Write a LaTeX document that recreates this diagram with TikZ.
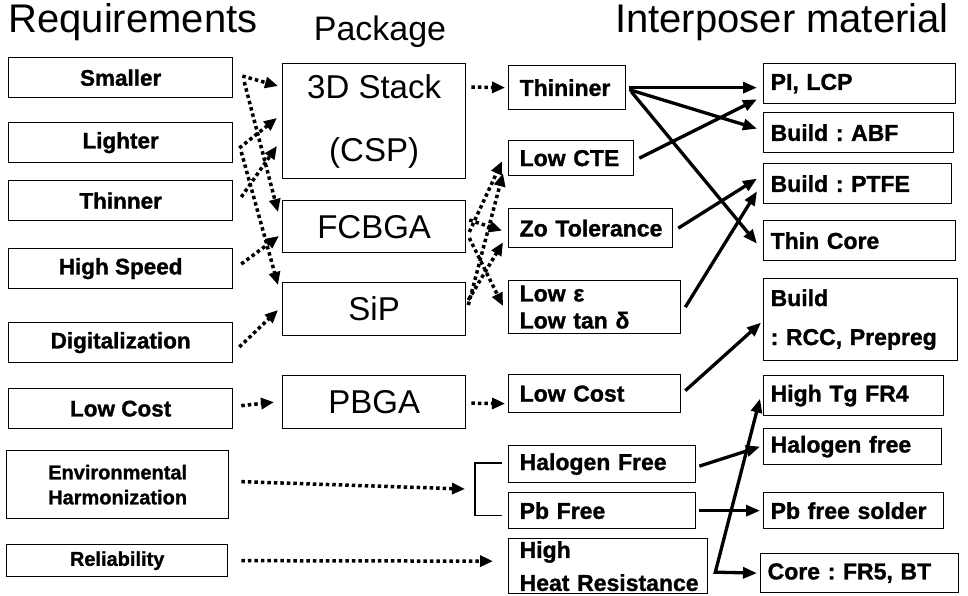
\documentclass[tikz,border=0pt]{standalone}
\usepackage{fontspec}
\setmainfont{Liberation Sans}[BoldFeatures={FakeBold=1.2}]
\usetikzlibrary{arrows.meta,calc}
\begin{document}
\frenchspacing
\begin{tikzpicture}[x=1pt,y=-1pt,
 box/.style={draw,line width=1.3pt,inner sep=0pt,anchor=north west},
 req/.style={box,align=center,font=\bfseries\fontsize{22.5}{26}\selectfont},
 pkg/.style={box,align=center,font=\fontsize{33}{63}\selectfont},
 prop/.style={box,align=left,inner xsep=11pt,font=\bfseries\fontsize{23}{27}\selectfont},
 mat/.style={box,align=left,inner xsep=7pt,font=\bfseries\fontsize{23}{27}\selectfont},
 dotarr/.style={line width=3.5pt,dash pattern=on 3.5pt off 3pt,-{Triangle[length=13pt,width=11pt]}},
 solarr/.style={line width=3.3pt,-{Triangle[length=14pt,width=11pt]}},
 title/.style={font=\fontsize{40}{44}\selectfont,anchor=base}]
\useasboundingbox (0,0) rectangle (968,595);

% titles
\node[title] (t1) at (133,32) {Requirements};
\node[title,font=\fontsize{34}{40}\selectfont] (t2) at (380,40) {Package};
\node[title] (t3) at (782,32) {Interposer material};

% requirements
\node[req,minimum width=224pt,minimum height=40pt] (sm) at (8,57) {Smaller};
\node[req,minimum width=224pt,minimum height=40pt] (li) at (8,122) {Lighter};
\node[req,minimum width=224pt,minimum height=40pt] (th) at (8,180) {Thinner};
\node[req,minimum width=224pt,minimum height=40pt] (hs) at (8,248) {High Speed};
\node[req,minimum width=224pt,minimum height=40pt] (dg) at (8,322) {Digitalization};
\node[req,minimum width=224pt,minimum height=40pt] (lc) at (8,388) {Low Cost};
\node[req,minimum width=222pt,minimum height=68pt,font=\bfseries\fontsize{20}{25}\selectfont] (en) at (6,450) {Environmental\\Harmonization};
\node[req,minimum width=221pt,minimum height=32pt,font=\bfseries\fontsize{20}{25}\selectfont] (re) at (6,544) {Reliability};

% packages
\node[pkg,minimum width=183pt,minimum height=115pt] (p3d) at (282,63) {3D Stack\\(CSP)};
\node[pkg,minimum width=183pt,minimum height=52pt] (pfc) at (282,200) {FCBGA};
\node[pkg,minimum width=183pt,minimum height=53pt] (psip) at (282,282) {SiP};
\node[pkg,minimum width=183pt,minimum height=53pt] (ppb) at (282,375) {PBGA};

% properties
\node[prop,text width=95pt,minimum height=44pt] (thn) at (508,65) {\mbox{Thininer}};
\node[prop,text width=103pt,minimum height=35pt] (cte) at (508,140) {\mbox{Low CTE}};
\node[prop,text width=142pt,minimum height=39pt] (zo) at (508,208) {\mbox{Zo Tolerance}};
\node[prop,text width=150pt,minimum height=53pt] (eps) at (508,280) {\mbox{Low ε}\\\mbox{Low tan δ}};
\node[prop,text width=150pt,minimum height=38pt] (cost) at (508,374) {\mbox{Low Cost}};
\node[prop,text width=165pt,minimum height=37pt] (hal) at (508,445) {\mbox{Halogen Free}};
\node[prop,text width=165pt,minimum height=36pt] (pb) at (508,492) {\mbox{Pb Free}};
\node[prop,text width=177pt,minimum height=55pt,font=\bfseries\fontsize{23}{33}\selectfont] (heat) at (508,538) {\mbox{High}\\\mbox{Heat Resistance}};

% materials
\node[mat,text width=178pt,minimum height=40pt] (pi) at (763,63) {\mbox{PI, LCP}};
\node[mat,text width=176pt,minimum height=40pt] (abf) at (763,112) {\mbox{Build : ABF}};
\node[mat,text width=174pt,minimum height=40pt] (ptfe) at (763,163) {\mbox{Build : PTFE}};
\node[mat,text width=178pt,minimum height=40pt] (tc) at (763,220) {\mbox{Thin Core}};
\node[mat,text width=180pt,minimum height=82pt,font=\bfseries\fontsize{23}{39}\selectfont] (rcc) at (763,278) {\mbox{Build}\\\mbox{: RCC, Prepreg}};
\node[mat,text width=166pt,minimum height=40pt] (tg) at (763,375) {\mbox{High Tg FR4}};
\node[mat,text width=164pt,minimum height=36pt] (hf) at (763,428) {\mbox{Halogen free}};
\node[mat,text width=166pt,minimum height=36pt] (pbs) at (763,492) {\mbox{Pb free solder}};
\node[mat,text width=184pt,minimum height=39pt] (core) at (760,553) {\mbox{Core : FR5, BT}};

% requirement -> package (dotted)
\draw[dotarr] ($(sm.north east)+(9,19)$) -- ($(p3d.north west)+(-4,23)$);
\draw[dotarr] ($(sm.north east)+(11,25)$) -- ($(pfc.north west)+(-4,12)$);
\draw[dotarr] ($(li.north east)+(6,26)$) -- ($(p3d.north west)+(-5,55)$);
\draw[dotarr] ($(li.north east)+(8,30)$) -- ($(psip.north west)+(-4,3)$);
\draw[dotarr] ($(th.north east)+(8,17)$) -- ($(p3d.north west)+(-5,83)$);
\draw[dotarr] ($(hs.north east)+(8,16)$) -- ($(pfc.north west)+(-3,36)$);
\draw[dotarr] ($(dg.north east)+(6,25)$) -- ($(psip.north west)+(-4,28)$);
\draw[dotarr] ($(lc.east)+(8,-3)$) -- ($(ppb.west)+(-8,0)$);

% package -> property (dotted)
\draw[dotarr] ($(p3d.north east)+(5,24)$) -- ($(thn.west)+(-3,0)$);
\draw[dotarr] ($(pfc.north east)+(3,32)$) -- ($(cte.south west)+(-6,-15)$);
\draw[dotarr] ($(pfc.north east)+(3,20)$) -- ($(zo.west)+(-6,2.5)$);
\draw[dotarr] ($(pfc.north east)+(3,38)$) -- ($(eps.north west)+(-5,26)$);
\draw[dotarr] ($(psip.north east)+(2,23)$) -- ($(cte.south west)+(-5,-3)$);
\draw[dotarr] ($(psip.north east)+(2,18)$) -- ($(zo.south west)+(-5,-6)$);
\draw[dotarr] ($(ppb.east)+(5,1)$) -- ($(cost.west)+(-3,10)$);

% environmental / reliability
\coordinate (bk) at (475,489);
\draw[line width=1.6pt] ($(hal.west)+(-6,-1)$) -| (bk) |- ($(pb.west)+(-6,5)$);
\draw[dotarr] ($(en.east)+(12,-3)$) -- ($(bk)+(-10,0)$);
\draw[dotarr] ($(re.east)+(13,0)$) -- ($(heat.west)+(-15,-5)$);

% property -> material (solid)
\draw[solarr] ($(thn.east)+(3,0)$) -- ($(pi.west)+(-6,4)$);
\draw[solarr] ($(thn.east)+(3,2)$) -- ($(abf.west)+(-6,-4)$);
\draw[solarr] ($(thn.east)+(5,4)$) -- ($(tc.west)+(-6,3)$);
\draw[solarr] ($(cte.east)+(5,0)$) -- ($(pi.south west)+(-6,-5)$);
\draw[solarr] ($(zo.east)+(5,0)$) -- ($(ptfe.west)+(-6,-5)$);
\draw[solarr] ($(eps.east)+(4,0)$) -- ($(ptfe.south west)+(-6,-13)$);
\draw[solarr] ($(cost.east)+(4,-3)$) -- ($(rcc.west)+(-2,3)$);
\draw[solarr] ($(hal.east)+(3,2)$) -- ($(hf.west)+(-3,0)$);
\draw[solarr] ($(pb.east)+(3,0)$) -- ($(pbs.west)+(-3,0)$);
\coordinate (hh) at ($(heat.east)+(7,6)$);
\draw[line width=3.3pt,{Triangle[length=14pt,width=11pt]}-{Triangle[length=14pt,width=11pt]}]
  ($(tg.west)+(-3,3)$) -- (hh) -- ($(core.west)+(-3,0)$);
\end{tikzpicture}
\end{document}
